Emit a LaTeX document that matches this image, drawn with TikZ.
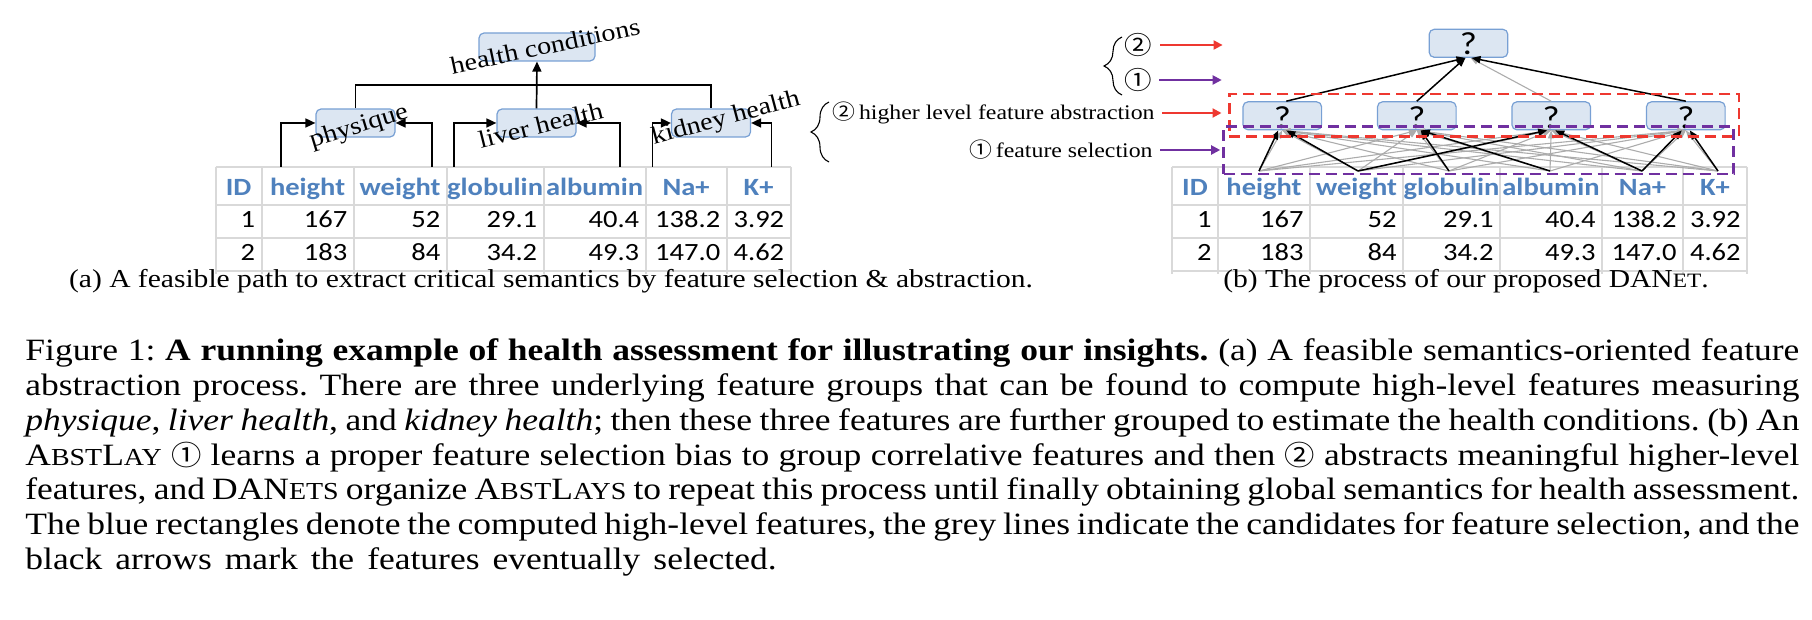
\documentclass[tikz,border=0pt]{standalone}
\usepackage{fontspec}
\setmainfont{Liberation Serif}[FakeStretch=1.145]
\newfontfamily\tabfont{Carlito}[FakeStretch=1.15]
\newfontfamily\cjk{Noto Sans CJK SC}[FakeStretch=1.1]
\usetikzlibrary{arrows.meta,decorations.pathreplacing,calc}
\definecolor{boxfill}{RGB}{220,230,242}
\definecolor{boxline}{RGB}{120,160,212}
\definecolor{hdrblue}{RGB}{79,129,189}
\definecolor{gridgray}{RGB}{217,217,217}
\definecolor{myred}{RGB}{238,56,48}
\definecolor{mypurple}{RGB}{112,48,160}
\definecolor{candgray}{RGB}{172,172,172}
\newcommand\capfont{\fontsize{15.5}{17.35}\selectfont}
\newcommand\scc[1]{{\fontsize{12.2}{12}\selectfont #1}}
\newcommand\scb[1]{{\fontsize{10.2}{10}\selectfont #1}}
\newcommand\cc[1]{{\cjk\fontsize{13.8}{14}\selectfont #1}}
\newcommand\datatable[2]{%
  \foreach \xx in {0,46,138,231,328,430,511,575}
    \draw[gridline] (#1+\xx,167) -- (#1+\xx,274);
  \foreach \yy in {167,205,238,271}
    \draw[gridline] (#1,\yy) -- (#1+575,\yy);
  \foreach \nm/\lo/\hi [count=\k] in {ID/0/46,height/46/138,weight/138/231,globulin/231/328,albumin/328/430,Na+/430/511,K+/511/575}
    \node[hdr] (#2h\k) at (#1+\lo/2+\hi/2,196) {\nm};
  \foreach \v/\hi [count=\k] in {1/46,167/138,52/231,29.1/328,40.4/430,138.2/511,3.92/575}
    \node[num] (#2a\k) at (#1+\hi-6,228) {\v};
  \foreach \v/\hi [count=\k] in {2/46,183/138,84/231,34.2/328,49.3/430,147.0/511,4.62/575}
    \node[num] (#2b\k) at (#1+\hi-6,261) {\v};
}
\frenchspacing
\begin{document}
\begin{tikzpicture}[x=0.5pt,y=-0.5pt,
  gridline/.style={gridgray,line width=0.9pt},
  hdr/.style={anchor=base,inner sep=0,text=hdrblue,font={\tabfont\fontsize{12.4}{14}\selectfont\bfseries}},
  num/.style={anchor=base east,inner sep=0,font={\tabfont\fontsize{12.4}{14}\selectfont}},
  fbox/.style={draw=boxline,fill=boxfill,rounded corners=2.5pt,line width=0.6pt,minimum height=14pt,inner sep=0},
  qmark/.style={inner sep=0,font={\tabfont\fontsize{16}{16}\selectfont}},
  lab/.style={inner sep=0,font={\fontsize{12.3}{13}\selectfont}},
  tree/.style={line width=0.85pt},
  treearr/.style={tree,-{Triangle[length=5pt,width=4.5pt]}},
  selarr/.style={line width=0.75pt,-{Triangle[length=4.5pt,width=3.6pt]}},
  candarr/.style={candgray,line width=0.55pt,-{Triangle[length=4pt,width=3pt]}},
  redbox/.style={draw=myred,dash pattern=on 5.5pt off 3pt,line width=1.3pt,inner sep=0},
  purpbox/.style={draw=mypurple,dash pattern=on 5.5pt off 3pt,line width=1.3pt,inner sep=0},
  redarr/.style={myred,line width=1pt,-{Triangle[length=4.5pt,width=4.5pt]}},
  purparr/.style={mypurple,line width=1pt,-{Triangle[length=4.5pt,width=4.5pt]}},
  circ/.style={inner sep=0,font={\cjk\fontsize{12.5}{13}\selectfont}},
  midlab/.style={inner sep=0,anchor=east,font={\fontsize{10.4}{12}\selectfont}},
  bracestyle/.style={line width=0.55pt,decorate,decoration={brace,amplitude=9pt}},
  subcap/.style={anchor=base,inner sep=0,font={\fontsize{12.9}{15}\selectfont}},
  capline/.style={anchor=base west,inner sep=0,font=\capfont}]
\useasboundingbox (0,0) rectangle (1812,620);

% ---------- (a) ----------
\datatable{215.6}{ta}
\node[fbox,minimum width=58pt] (hc) at (537,47) {};
\node[fbox,minimum width=39.5pt] (phys) at (355.5,123) {};
\node[fbox,minimum width=39.5pt] (liv) at (536.5,123) {};
\node[fbox,minimum width=39.5pt] (kid) at (711,123) {};
\coordinate (bar) at (536.5,85);
\draw[tree] (phys.north) |- (bar) -| (kid.north);
\draw[treearr] (liv.north) -- (hc.south);
\coordinate (pa1) at (280.7,167);
\coordinate (pa2) at (432,167);
\coordinate (pa3) at (454,167);
\coordinate (pa4) at (619.8,167);
\coordinate (pa5) at (652.6,167);
\coordinate (pa6) at (771.5,167);
\draw[treearr] (pa1) |- (phys.west);
\draw[treearr] (pa2) |- (phys.east);
\draw[treearr] (pa3) |- (liv.west);
\draw[treearr] (pa4) |- (liv.east);
\draw[treearr] (pa5) |- (kid.west);
\draw[treearr] (pa6) |- (kid.east);
\node[lab,rotate=12] (thc) at (545,46) {health conditions};
\node[lab,rotate=17] (tph) at (359,127) {physique};
\node[lab,rotate=14] (tli) at (540.6,125) {liver health};
\node[lab,rotate=15] (tki) at (726,119) {kidney health};
\node[subcap] (capa) at (551,288) {(a) A feasible path to extract critical semantics by feature selection \& abstraction.};

% ---------- middle labels ----------
\draw[bracestyle] (829,162) -- (829,102);
\node[midlab] (lhl) at (1155,113) {{\cjk ②}\,higher level feature abstraction};
\node[midlab] (lfs) at (1153,150) {{\cjk ①}\,feature selection};

% ---------- (b) ----------
\datatable{1172}{tb}
\node[fbox,minimum width=39.3pt] (top) at (1468.5,43.3) {};
\node[fbox,minimum width=39.3pt] (b1) at (1282.3,115.8) {};
\node[fbox,minimum width=39.3pt] (b2) at (1416.8,115.8) {};
\node[fbox,minimum width=39.3pt] (b3) at (1551.2,115.8) {};
\node[fbox,minimum width=39.3pt] (b4) at (1685.8,115.8) {};
\node[qmark] (qt) at (1468.5,44) {?};
\node[qmark] (q1) at (1282.3,118) {?};
\node[qmark] (q2) at (1416.8,118) {?};
\node[qmark] (q3) at (1551.2,118) {?};
\node[qmark] (q4) at (1685.8,118) {?};
\coordinate (fb1) at (1259,171);
\coordinate (fb2) at (1358,171);
\coordinate (fb3) at (1449,171);
\coordinate (fb4) at (1550,171);
\coordinate (fb5) at (1642,171);
\coordinate (fb6) at (1718,171);
\foreach \f in {1,...,6}
  \foreach \b in {1,...,4}
    \draw[candarr] (fb\f) -- (b\b.south);
\draw[candarr] (b3.north) -- ([xshift=1pt]top.south);
\draw[selarr] (fb1) -- ([xshift=-2pt]b1.south);
\draw[selarr] (fb2) -- ([xshift=2pt]b1.south);
\draw[selarr] (fb3) -- ([xshift=2pt]b2.south);
\draw[selarr] (fb4) -- ([xshift=2pt]b2.south);
\draw[selarr] (fb2) -- ([xshift=-2pt]b3.south);
\draw[selarr] (fb5) -- ([xshift=2pt]b3.south);
\draw[selarr] (fb5) -- ([xshift=-2pt]b4.south);
\draw[selarr] (fb6) -- ([xshift=2pt]b4.south);
\draw[selarr] ([xshift=2pt]b1.north) -- ([xshift=-1.5pt]top.south);
\draw[selarr] (b2.north) -- ([xshift=-1.5pt]top.south);
\draw[selarr] (b4.north) -- ([xshift=1.5pt]top.south);
\node[redbox,minimum width=254.8pt,minimum height=21.35pt] (rb) at (1484.2,115.35) {};
\node[purpbox,minimum width=255pt,minimum height=23.65pt] (pb) at (1478.5,150.35) {};
\draw[redarr] ([xshift=3.5pt]lhl.east) -- ([xshift=-3.3pt]lhl.east -| rb.west);
\draw[purparr] ([xshift=3.5pt]lfs.east) -- ([xshift=-1pt]lfs.east -| pb.west);
% top-left labels of (b)
\draw[bracestyle] (1122,95) -- (1122,37);
\node[circ] (c2t) at (1138,45) {②};
\node[circ] (c1t) at (1138,80) {①};
\coordinate (rend) at (1222.6,45);
\coordinate (pend) at (1221.7,80);
\draw[redarr] (c2t.east) ++(4pt,0) -- (rend);
\draw[purparr] (c1t.east) ++(3.5pt,0) -- (pend);
\node[subcap] (capb) at (1466,288) {(b) The process of our proposed DAN\scb{ET}.};

% ---------- caption ----------
\node[capline] (cap1) at (25,361) {\makebox[887pt][s]{Figure 1: \textbf{A running example of health assessment for illustrating our insights.} (a) A feasible semantics-oriented feature}};
\node[capline] (cap2) at (25,395.7) {\makebox[887pt][s]{abstraction process. There are three underlying feature groups that can be found to compute high-level features measuring}};
\node[capline] (cap3) at (25,430.4) {\makebox[887pt][s]{\textit{physique}, \textit{liver health}, and \textit{kidney health}; then these three features are further grouped to estimate the health conditions. (b) An}};
\node[capline] (cap4) at (25,465.1) {\makebox[887pt][s]{A\scc{BST}L\scc{AY} \cc{①} learns a proper feature selection bias to group correlative features and then \cc{②} abstracts meaningful higher-level}};
\node[capline] (cap5) at (25,499.8) {\makebox[887pt][s]{features, and DAN\scc{ETS} organize A\scc{BST}L\scc{AYS} to repeat this process until finally obtaining global semantics for health assessment.}};
\node[capline] (cap6) at (25,534.5) {\makebox[887pt][s]{The blue rectangles denote the computed high-level features, the grey lines indicate the candidates for feature selection, and the}};
\node[capline] (cap7) at (25,569.2) {{\spaceskip=0.42em plus 0.1em black arrows mark the features eventually selected.}};
\end{tikzpicture}
\end{document}
